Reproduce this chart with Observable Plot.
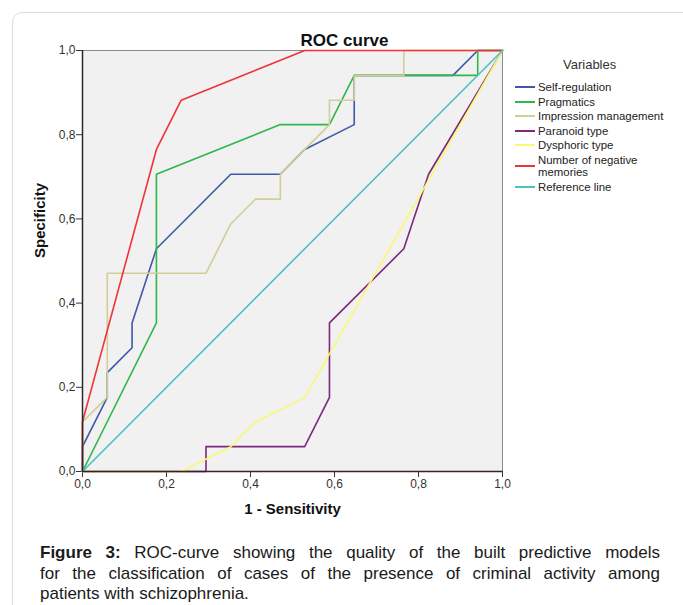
<!DOCTYPE html>
<html><head><meta charset="utf-8">
<script src="https://cdn.jsdelivr.net/npm/d3@7"></script>
<script src="https://cdn.jsdelivr.net/npm/@observablehq/plot@0.6"></script>
<style>
body{margin:0;background:#fff;font-family:"Liberation Sans",Arial,sans-serif;}
#wrap{position:relative;width:683px;height:605px;overflow:hidden;background:#fff;}
#card{position:absolute;left:12px;top:12px;width:720px;height:640px;border:1px solid #dcdcdc;border-radius:10px;}
#chart{position:absolute;left:0;top:0;}
#legend{position:absolute;left:515px;top:57px;color:#222;font-size:11.4px;}
#legend .ttl{font-size:13px;margin-left:48px;height:24px;line-height:16px;color:#333;}
#legend .item{display:flex;align-items:center;line-height:12px;margin-bottom:2.6px;}
#legend .sw{width:20px;height:0;border-top:2px solid;margin-right:3px;flex:none;}
#legend .lab{width:132px;}
#caption{position:absolute;left:40px;top:543px;width:620px;font-size:17px;line-height:20.5px;color:#1a1a1a;}
#caption .ln{text-align:justify;text-align-last:justify;}
#caption .ln.last{text-align-last:left;}
</style>
</head><body>
<div id="wrap">
  <div id="card"></div>
  <div id="chart"></div>
  <div id="legend"></div>
  <div id="caption"></div>
</div>
<script>
// ---- data ----
const seriesNames = ["Self-regulation","Pragmatics","Impression management","Paranoid type","Dysphoric type","Number of negative memories","Reference line"];
const seriesColors = ["#3e58ac","#2eb848","#d3ce97","#7c287d","#fbf873","#ef3338","#48c2c5"];

const selfRegX = [0,0,0.059,0.059,0.118,0.118,0.176,0.353,0.471,0.529,0.647,0.647,0.882,0.941,1];
const selfRegY = [0,0.059,0.176,0.235,0.294,0.353,0.529,0.706,0.706,0.765,0.824,0.941,0.941,1,1];

const pragX = [0,0.176,0.176,0.471,0.588,0.647,0.941,0.941,1];
const pragY = [0,0.353,0.706,0.824,0.824,0.941,0.941,1,1];

const implX = [0,0,0.059,0.059,0.294,0.353,0.412,0.471,0.471,0.529,0.588,0.588,0.647,0.647,0.765,0.765,1];
const implY = [0,0.118,0.176,0.471,0.471,0.588,0.647,0.647,0.706,0.765,0.824,0.882,0.882,0.941,0.941,1,1];

const paranoidX = [0,0.294,0.294,0.529,0.588,0.588,0.765,0.824,1];
const paranoidY = [0,0,0.059,0.059,0.176,0.353,0.529,0.706,1];

const dysphoricX = [0,0.235,0.353,0.412,0.529,1];
const dysphoricY = [0,0,0.059,0.118,0.176,1];

const memoriesX = [0,0,0.176,0.235,0.529,1];
const memoriesY = [0,0.118,0.765,0.882,1,1];

const refX = [0,1];
const refY = [0,1];

const tickValues = [0,0.2,0.4,0.6,0.8,1];
const tickLabels = ["0,0","0,2","0,4","0,6","0,8","1,0"];

const titleText = "ROC curve";
const xLabel = "1 - Sensitivity";
const yLabel = "Specificity";
const legendTitle = "Variables";
const captionBold = "Figure 3:";
const captionLines = [
  " ROC-curve showing the quality of the built predictive models",
  "for the classification of cases of the presence of criminal activity among",
  "patients with schizophrenia."
];

// ---- build table ----
const seriesX = [selfRegX,pragX,implX,paranoidX,dysphoricX,memoriesX,refX];
const seriesY = [selfRegY,pragY,implY,paranoidY,dysphoricY,memoriesY,refY];
const rows = [];
seriesNames.forEach((name,i)=>{
  seriesX[i].forEach((x,j)=>rows.push({series:name,x,y:seriesY[i][j]}));
});
const fmt = d => tickLabels[tickValues.indexOf(d)] ?? d;

const chart = Plot.plot({
  width: 683, height: 530,
  marginLeft: 82, marginRight: 181, marginTop: 50, marginBottom: 59,
  style: {fontFamily: '"Liberation Sans", Arial, sans-serif', background: "transparent", overflow: "visible"},
  x: {domain: [0,1]},
  y: {domain: [0,1]},
  color: {domain: seriesNames, range: seriesColors},
  marks: [
    Plot.frame({fill: "#f0f1f0", stroke: "#8a8a8a", strokeWidth: 1}),
    Plot.axisX({ticks: tickValues, tickFormat: fmt, tickSize: 6, tickPadding: 2, fontSize: 12, label: null, color: "#333"}),
    Plot.axisY({ticks: tickValues, tickFormat: fmt, tickSize: 6, tickPadding: 1, fontSize: 12, label: null, color: "#333"}),
    Plot.line(rows, {x: "x", y: "y", z: "series", stroke: "series", strokeWidth: 1.6}),
    Plot.ruleX([0], {stroke: "#2a2a2a", strokeWidth: 1.5}),
    Plot.ruleY([0], {stroke: "#3a2222", strokeWidth: 1.5}),
    Plot.text([titleText], {frameAnchor: "top", dx: 52, dy: -5, lineAnchor: "bottom", fontSize: 17, fontWeight: "bold", fill: "#111"}),
    Plot.text([xLabel], {frameAnchor: "bottom", dy: 42, fontSize: 15, fontWeight: "bold", fill: "#111"}),
    Plot.text([yLabel], {frameAnchor: "left", dx: -42, dy: -3, rotate: -90, fontSize: 15, fontWeight: "bold", fill: "#111"})
  ]
});
document.getElementById("chart").appendChild(chart);

// ---- legend ----
const lg = document.getElementById("legend");
const t = document.createElement("div"); t.className = "ttl"; t.textContent = legendTitle; lg.appendChild(t);
seriesNames.forEach((n,i)=>{
  const it = document.createElement("div"); it.className = "item";
  const sw = document.createElement("div"); sw.className = "sw"; sw.style.borderTopColor = seriesColors[i];
  const lb = document.createElement("div"); lb.className = "lab"; lb.textContent = n;
  it.appendChild(sw); it.appendChild(lb); lg.appendChild(it);
});

// ---- caption ----
const cap = document.getElementById("caption");
captionLines.forEach((line,i)=>{
  const d = document.createElement("div");
  d.className = "ln" + (i === captionLines.length-1 ? " last" : "");
  if (i === 0) {
    const b = document.createElement("b"); b.textContent = captionBold; d.appendChild(b);
  }
  d.appendChild(document.createTextNode(line));
  cap.appendChild(d);
});
</script>
</body></html>
